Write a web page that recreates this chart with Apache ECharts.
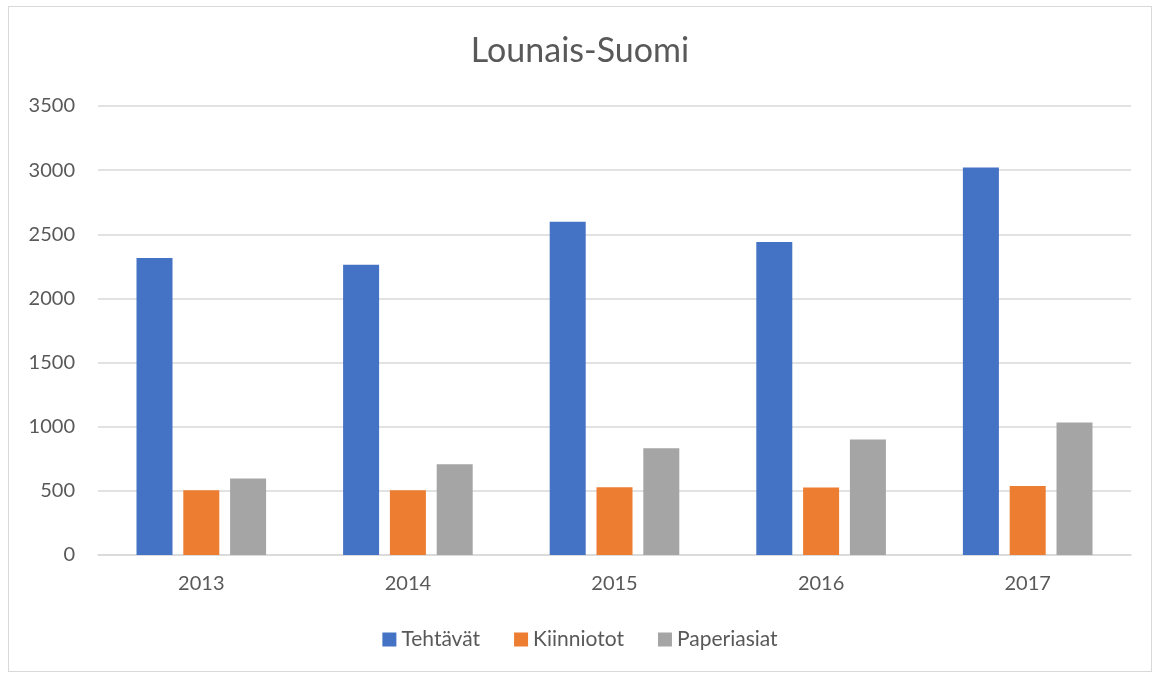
<!DOCTYPE html>
<html>
<head>
<meta charset="utf-8">
<script src="https://cdn.jsdelivr.net/npm/echarts@6/dist/echarts.min.js"></script>
<style>
  html, body { margin: 0; padding: 0; background: #fff; }
  #chart { position: absolute; left: 8px; top: 6px; width: 1144px; height: 666px; border: 1px solid #d9d9d9; box-sizing: border-box; }
</style>
</head>
<body>
<div id="chart"></div>
<script>
document.addEventListener('DOMContentLoaded', function() {

    const years = ['2013', '2014', '2015', '2016', '2017'];
    const tehtavat = [2315, 2263, 2598, 2440, 3020];
    const kiinniotot = [505, 505, 529, 526, 537];
    const paperiasiat = [596, 708, 832, 900, 1032];

    const font = 'Lato, "Open Sans", sans-serif';
    const textColor = '#595959';

    const bar = (name, data, color) => ({
        name: name,
        type: 'bar',
        data: data,
        barWidth: 36,
        barGap: '30%',
        itemStyle: { color: color }
    });

    const chart = echarts.init(document.getElementById('chart'));

    chart.setOption({
        animation: false,
        textStyle: { fontFamily: font },
        title: {
            text: 'Lounais-Suomi',
            left: 'center',
            top: 22,
            textStyle: { fontFamily: font, fontSize: 34, fontWeight: 'normal', color: textColor }
        },
        legend: {
            bottom: 16,
            left: 'center',
            itemWidth: 14,
            itemHeight: 14,
            itemGap: 34,
            icon: 'rect',
            textStyle: { fontFamily: font, fontSize: 21, color: textColor }
        },
        grid: {
            left: 89,
            right: 20,
            top: 99,
            bottom: 116
        },
        xAxis: {
            type: 'category',
            data: years,
            axisLine: { lineStyle: { color: '#d9d9d9', width: 1.5 } },
            axisTick: { show: false },
            axisLabel: { fontFamily: font, fontSize: 20, color: textColor, margin: 19 }
        },
        yAxis: {
            type: 'value',
            min: 0,
            max: 3500,
            interval: 500,
            axisLine: { show: false },
            axisTick: { show: false },
            splitLine: { lineStyle: { color: '#d9d9d9', width: 1.5 } },
            axisLabel: { fontFamily: font, fontSize: 20, color: textColor, margin: 23, formatter: v => String(v) }
        },
        series: [
            bar('Tehtävät', tehtavat, '#4472c4'),
            bar('Kiinniotot', kiinniotot, '#ed7d31'),
            bar('Paperiasiat', paperiasiat, '#a5a5a5')
        ]
    });

});
</script>
</body>
</html>
